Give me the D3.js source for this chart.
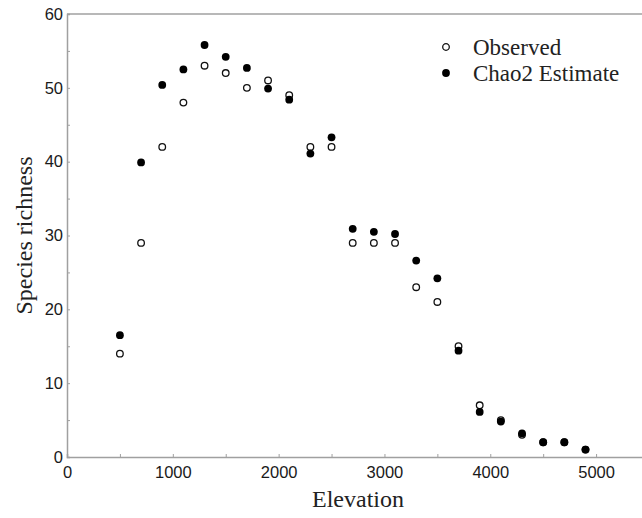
<!DOCTYPE html>
<html>
<head>
<meta charset="utf-8">
<script src="https://cdn.jsdelivr.net/npm/d3@7"></script>
<style>
  body { margin: 0; background: #fff; }
  svg { display: block; }
</style>
</head>
<body>
<div class="plot"></div>
<script>
/* data */
const elevation = [500, 700, 900, 1100, 1300, 1500, 1700, 1900, 2100, 2300, 2500, 2700,
                   2900, 3100, 3300, 3500, 3700, 3900, 4100, 4300, 4500, 4700, 4900];
const observed = [14, 29, 42, 48, 53, 52, 50, 51, 49, 42, 42, 29,
                  29, 29, 23, 21, 15, 7, 5, 3, 2, 2, 1];
const chao2 = [16.5, 39.9, 50.4, 52.5, 55.8, 54.2, 52.7, 49.9, 48.4, 41.1, 43.3, 30.9,
               30.5, 30.2, 26.6, 24.2, 14.4, 6.1, 4.8, 3.2, 2.0, 2.0, 1.0];
const xTicks = [0, 1000, 2000, 3000, 4000, 5000];
const yTicks = [0, 10, 20, 30, 40, 50, 60];
const legendLabels = ["Observed", "Chao2 Estimate"];

const W = 642, H = 518;
const margin = {top: 14, left: 67, bottom: 61};

const svg = d3.select(".plot").append("svg")
  .attr("width", W)
  .attr("height", H);

/* scales: the plot runs a little past the right edge of the picture */
const x = d3.scaleLinear().domain([0, 5500]).range([margin.left, 649]);
const y = d3.scaleLinear().domain([0, 60]).range([H - margin.bottom, margin.top]);

const axisColor = "#a0a0a0";
const tickFont = "'Liberation Sans', Arial, sans-serif";
const serif = "'Liberation Serif', 'Times New Roman', serif";

/* x axis, ticks point inward */
const xAxis = d3.axisBottom(x)
  .tickValues(d3.range(0, 5501, 500))
  .tickSize(-3)
  .tickFormat(d => xTicks.includes(d) ? d : "");

svg.append("g")
  .attr("transform", `translate(0,${y(0)})`)
  .call(xAxis)
  .call(g => g.select(".domain").attr("stroke", axisColor).attr("stroke-width", 1.5))
  .call(g => g.selectAll(".tick line").attr("stroke", axisColor))
  .call(g => g.selectAll(".tick text")
    .attr("y", 9)
    .attr("fill", "#1a1a1a")
    .attr("font-family", tickFont)
    .attr("font-size", 16.5));

/* y axis */
const yAxis = d3.axisLeft(y)
  .tickValues(d3.range(0, 61, 5))
  .tickSize(-3)
  .tickFormat(d => yTicks.includes(d) ? d : "");

svg.append("g")
  .attr("transform", `translate(${x(0)},0)`)
  .call(yAxis)
  .call(g => g.select(".domain").attr("stroke", axisColor).attr("stroke-width", 1.5))
  .call(g => g.selectAll(".tick line").attr("stroke", axisColor))
  .call(g => g.selectAll(".tick text")
    .attr("x", -4)
    .attr("fill", "#1a1a1a")
    .attr("font-family", tickFont)
    .attr("font-size", 16.5));

/* top frame line */
svg.append("line")
  .attr("x1", x(0)).attr("x2", W)
  .attr("y1", y(60)).attr("y2", y(60))
  .attr("stroke", axisColor)
  .attr("stroke-width", 1.5);

/* axis titles */
svg.append("text")
  .attr("x", (x(0) + x(5500)) / 2)
  .attr("y", 507)
  .attr("text-anchor", "middle")
  .attr("font-family", serif)
  .attr("font-size", 24)
  .attr("fill", "#222")
  .text("Elevation");

svg.append("text")
  .attr("transform", `translate(32,${(y(0) + y(60)) / 2}) rotate(-90)`)
  .attr("text-anchor", "middle")
  .attr("font-family", serif)
  .attr("font-size", 24)
  .attr("fill", "#222")
  .text("Species richness");

/* points: open first, filled on top */
const rows = elevation.map((e, i) => ({e, obs: observed[i], est: chao2[i]}));

svg.selectAll(".obs")
  .data(rows)
  .join("circle")
  .attr("class", "obs")
  .attr("cx", d => x(d.e))
  .attr("cy", d => y(d.obs))
  .attr("r", 3.3)
  .attr("fill", "#fff")
  .attr("stroke", "#111")
  .attr("stroke-width", 1.3);

svg.selectAll(".est")
  .data(rows)
  .join("circle")
  .attr("class", "est")
  .attr("cx", d => x(d.e))
  .attr("cy", d => y(d.est))
  .attr("r", 3.9)
  .attr("fill", "#000");

/* legend */
const legend = svg.append("g").attr("transform", "translate(446,47)");
legendLabels.forEach((label, i) => {
  const row = legend.append("g").attr("transform", `translate(0,${i * 26})`);
  row.append("circle")
    .attr("r", i === 0 ? 3.3 : 3.9)
    .attr("fill", i === 0 ? "#fff" : "#000")
    .attr("stroke", i === 0 ? "#111" : "none")
    .attr("stroke-width", 1.3);
  row.append("text")
    .attr("x", 27)
    .attr("y", 8)
    .attr("font-family", serif)
    .attr("font-size", 23)
    .attr("fill", "#222")
    .text(label);
});
</script>
</body>
</html>
